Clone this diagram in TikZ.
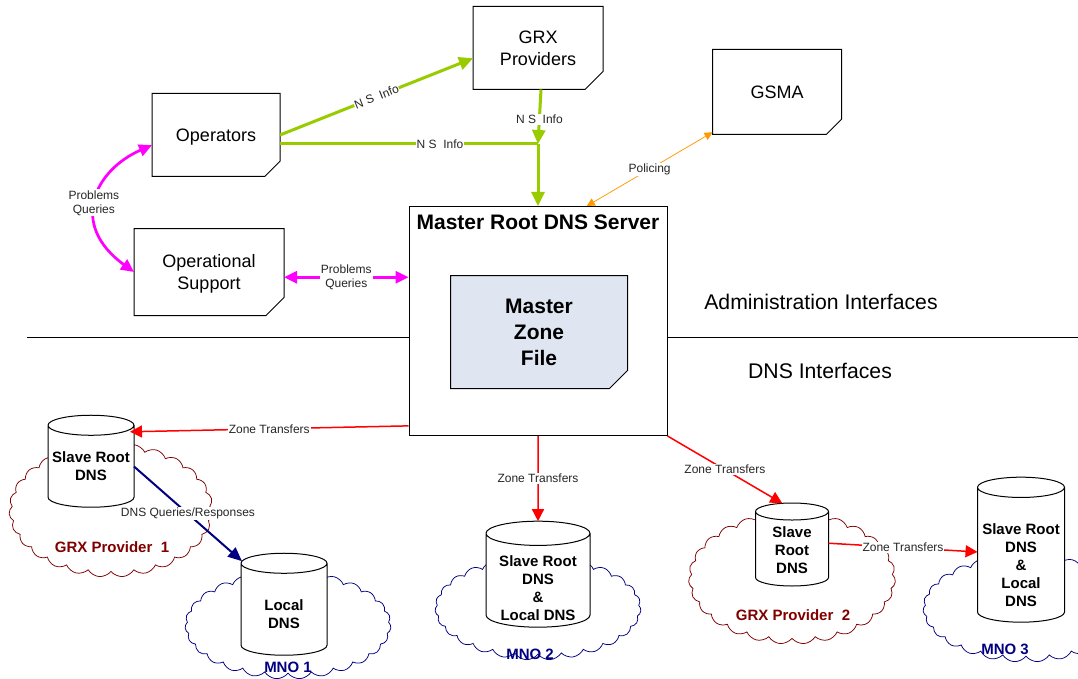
\documentclass[tikz,border=0pt]{standalone}
\usepackage{fontspec}
\setmainfont{Liberation Sans}
\usetikzlibrary{arrows.meta,shapes.geometric,shapes.misc,shapes.symbols}
\definecolor{nsgreen}{HTML}{99CC00}
\definecolor{zonefill}{HTML}{DFE6F2}
\definecolor{grxred}{HTML}{800000}
\definecolor{mnoblue}{HTML}{000080}
\definecolor{policing}{HTML}{FF9900}
\definecolor{querypink}{HTML}{FF00FF}
\tikzset{
  docbox/.style={draw,line width=1pt,fill=white,chamfered rectangle,chamfered rectangle corners=south east,
    chamfered rectangle xsep=9pt,chamfered rectangle ysep=9pt,inner sep=0pt,outer sep=0pt,text depth=0pt,
    align=center,font=\fontsize{18}{22}\selectfont},
  dnsdb/.style={draw,line width=1pt,fill=white,cylinder,shape border rotate=90,shape aspect=0.233,inner sep=0pt,outer sep=0pt,
    text width=#1,minimum width=#1},
  dnstext/.style={align=center,font=\bfseries\fontsize{15}{18}\selectfont},
  puffs/.style={draw,line width=0.75pt,cloud,cloud puffs=27,cloud puff arc=110,aspect=1.8,inner sep=0pt},
  cloudtext/.style={font=\bfseries\fontsize{15}{18}\selectfont},
  linklabel/.style={fill=white,inner sep=1pt,align=center,text=black!85,font=\fontsize{12}{14}\selectfont},
  nslink/.style={draw=nsgreen,line width=3pt,-{Triangle[length=14pt,width=13pt]}},
  zonelink/.style={draw=red,line width=1.5pt,-{Triangle[length=12pt,width=12pt]}},
  querylink/.style={draw=querypink,line width=2.75pt,{Triangle[length=13pt,width=12pt]}-{Triangle[length=13pt,width=12pt]}}
}
\begin{document}
\begin{tikzpicture}[x=1pt,y=-1pt]
\useasboundingbox (0,0) rectangle (1078,679);
\fill[white] (0,0) rectangle (1078,679);
\coordinate (ruleleft) at (27,337);
\coordinate (ruleright) at (1078,337);
\draw [line width=1pt] (ruleleft) -- (ruleright);
\node (cloudgrxa) at (111,510) [puffs,draw=grxred,minimum width=204pt,minimum height=134pt]{};
\node (cloudmnoa) at (288,625) [puffs,draw=mnoblue,minimum width=206pt,minimum height=108pt]{};
\node (cloudmnob) at (538,608) [puffs,draw=mnoblue,minimum width=206pt,minimum height=104pt]{};
\node (cloudgrxb) at (792,578) [puffs,draw=grxred,minimum width=207pt,minimum height=132pt]{};
\node (cloudmnoc) at (1026,608) [puffs,draw=mnoblue,minimum width=206pt,minimum height=108pt]{};
\node (grx) at (538,48) [docbox,minimum width=130pt,minimum height=83pt]{GRX\\Providers};
\node (operators) at (216,135) [docbox,minimum width=128pt,minimum height=83pt]{Operators};
\node (support) at (209,272) [docbox,minimum width=150pt,minimum height=87pt]{Operational\\Support};
\node (gsma) at (777,92) [docbox,minimum width=129pt,minimum height=85pt]{GSMA};
\node (master) at (538,321) [draw,line width=1pt,fill=white,inner sep=0pt,minimum width=258pt,minimum height=229pt]{};
\node (mastertitle) at (538,222) [font=\bfseries\fontsize{21}{25}\selectfont]{Master Root DNS Server};
\node (zonefile) at (539,332) [docbox,fill=zonefill,minimum width=177pt,minimum height=113pt,font=\bfseries\fontsize{21}{26}\selectfont]{Master\\Zone\\File};
\node (slavea) at (91,466.5) [dnsdb=86pt,minimum height=92pt]{};
\node (locala) at (284,609.5) [dnsdb=86pt,minimum height=102pt]{};
\node (slaveb) at (538,580.5) [dnsdb=104pt,minimum height=106pt]{};
\node (slavec) at (792,549) [dnsdb=73pt,minimum height=83pt]{};
\node (slaved) at (1021,555) [dnsdb=87pt,minimum height=145pt]{};
\node (slaveatext) at (91,466) [dnstext]{Slave Root\\DNS};
\node (localatext) at (284,614) [dnstext]{Local\\DNS};
\node (slavebtext) at (538,588) [dnstext]{Slave Root\\DNS\\\&\\Local DNS};
\node (slavectext) at (792,550) [dnstext]{Slave\\Root\\DNS};
\node (slavedtext) at (1021,565) [dnstext]{Slave Root\\DNS\\\&\\Local\\DNS};
\node (grxnamea) at (112,547) [cloudtext,text=grxred]{GRX Provider~~1};
\node (mnonamea) at (288,667) [cloudtext,text=mnoblue]{MNO 1};
\node (mnonameb) at (530,654) [cloudtext,text=mnoblue]{MNO 2};
\node (grxnameb) at (793,615) [cloudtext,text=grxred]{GRX Provider~~2};
\node (mnonamec) at (1005,649) [cloudtext,text=mnoblue]{MNO 3};
\node (adminif) at (821,302) [font=\fontsize{21.2}{25}\selectfont]{Administration Interfaces};
\node (dnsif) at (820,371) [font=\fontsize{21.2}{25}\selectfont]{DNS Interfaces};
\coordinate (nsjoin) at (538,144);
\draw [nslink] (operators.east) -- (grx.-171) node [linklabel,midway,sloped,inner sep=0.5pt] {N S~~Info};
\draw [nslink,-] (operators.east |- nsjoin) -- (nsjoin) node [linklabel,pos=0.62] {N S~~Info};
\draw [nslink] ([xshift=3pt]grx.south) -- (nsjoin) node [linklabel,pos=0.55] {N S~~Info};
\draw [nslink] (nsjoin) -- (master.north);
\draw [draw=policing,line width=0.75pt,{Triangle[length=8pt,width=8pt]}-{Triangle[length=8pt,width=8pt]}] (master.67.6) -- (gsma.-148.5) node [linklabel,midway] {Policing};
\draw [querylink] (support.-4) -- (support.-4 -| master.west) node [linklabel,midway] {Problems\\Queries};
\draw [querylink] (operators.-171) .. controls (95,170) and (68,224) .. (support.west) node [linklabel,pos=0.5,xshift=-3pt,yshift=-3pt] {Problems\\Queries};
\draw [zonelink] (master.-141.7) -- ([xshift=-4pt,yshift=-4pt]slavea.42) node [linklabel,pos=0.5] {Zone Transfers};
\draw [zonelink] (master.south) -- (slaveb.north) node [linklabel,midway] {Zone Transfers};
\draw [zonelink] (master.south east) -- (slavec.102) node [linklabel,pos=0.5] {Zone Transfers};
\draw [zonelink] (slavec.9) -- (slaved.176) node [linklabel,midway] {Zone Transfers};
\draw [draw=mnoblue,line width=2pt,-{Triangle[length=14pt,width=12pt]}] (slavea.east) -- (locala.131) node [linklabel,midway] {DNS Queries/Responses};
\end{tikzpicture}
\end{document}
